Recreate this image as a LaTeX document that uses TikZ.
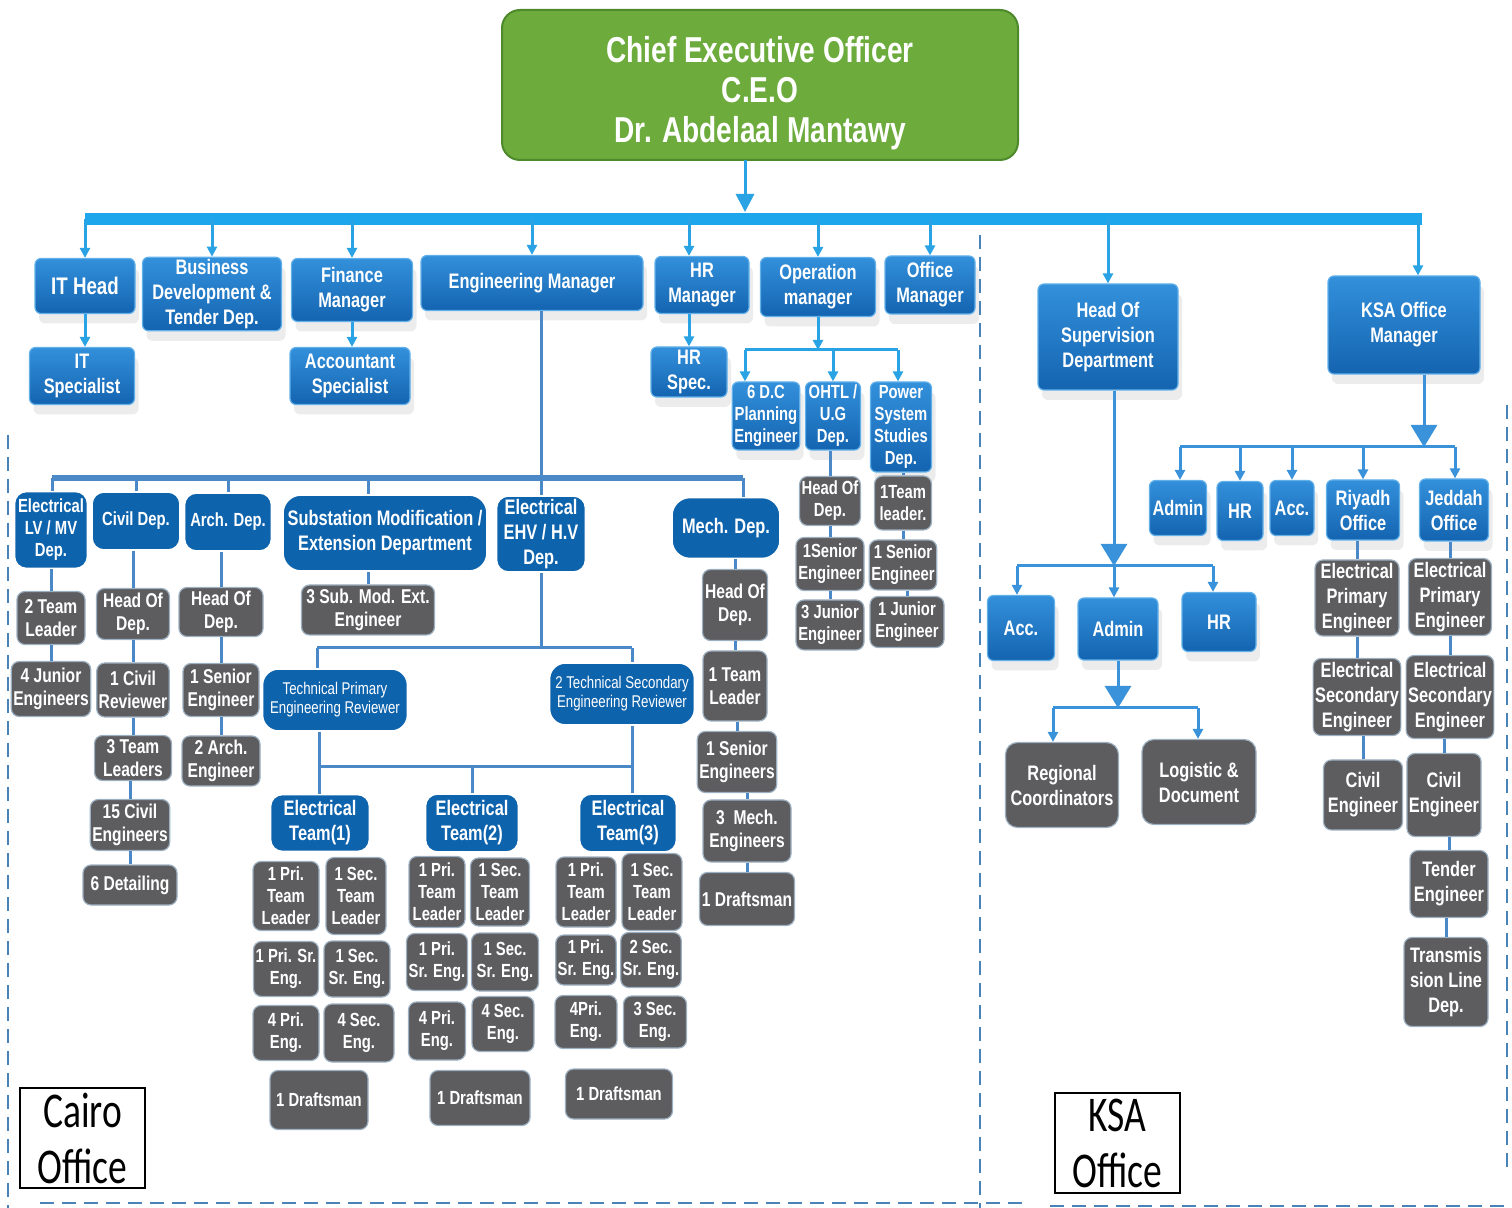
\documentclass[tikz,border=0pt]{standalone}
\usepackage{fontspec}
\setmainfont{Liberation Sans}[FakeStretch=0.78]
\newfontfamily\officeFont{Carlito}[FakeStretch=0.75]
\usetikzlibrary{arrows.meta,shadows}

\definecolor{ceoGreen}{HTML}{6CAB3C}
\definecolor{ceoEdge}{HTML}{4E8A2C}
\definecolor{glossTop}{HTML}{3390DB}
\definecolor{glossBot}{HTML}{1464B0}
\definecolor{glossRim}{HTML}{62B0EA}
\definecolor{deptBlue}{HTML}{0E63AD}
\definecolor{staffGrey}{HTML}{5D5D60}
\definecolor{staffRim}{HTML}{9DB0C2}
\definecolor{arrCyan}{HTML}{29A3E3}
\definecolor{busCyan}{HTML}{1EA6EC}
\definecolor{linkBlue}{HTML}{4A88C8}
\definecolor{ksaBlue}{HTML}{3A93DA}
\definecolor{borderBlue}{HTML}{4A83B8}

\newcommand{\ceoFont}{\bfseries\fontsize{18}{20}\selectfont}
\newcommand{\itFont}{\bfseries\fontsize{12}{14}\selectfont}
\newcommand{\boxFont}{\bfseries\fontsize{10.5}{12.5}\selectfont}
\newcommand{\boxSmallFont}{\bfseries\fontsize{9.5}{11}\selectfont}
\newcommand{\staffFont}{\bfseries\fontsize{10}{11.5}\selectfont}
\newcommand{\crewFont}{\bfseries\fontsize{9.5}{11}\selectfont}
\newcommand{\reviewFont}{\fontsize{8.5}{9.5}\selectfont}

\begin{document}
\begin{tikzpicture}[x=0.5pt, y=-0.5pt,
   ceo/.style={rectangle, rounded corners=9pt, draw=ceoEdge, line width=1pt, fill=ceoGreen, text=white, font=\ceoFont, align=center},
   glossy/.style={rectangle, rounded corners=3pt, draw=glossRim, line width=0.6pt, top color=glossTop, bottom color=glossBot, text=white, font=\boxFont, align=center, inner sep=1pt, drop shadow={shadow xshift=2pt, shadow yshift=-5pt, opacity=0.15}},
   dept/.style={rectangle, rounded corners=6pt, draw=white, line width=0.8pt, fill=deptBlue, text=white, font=\boxFont, align=center, inner sep=1pt},
   staff/.style={rectangle, rounded corners=4pt, draw=staffRim, line width=0.6pt, fill=staffGrey, text=white, font=\staffFont, align=center, inner sep=1pt},
   crew/.style={staff, font=\crewFont},
   office/.style={rectangle, draw=black, line width=1pt, font=\officeFont\fontsize{25}{28}\selectfont, align=center, inner sep=0pt},
   arr/.style={draw=arrCyan, line width=1.5pt, -{Triangle[width=5pt,length=5pt]}},
   ksaarr/.style={draw=ksaBlue, line width=1.5pt, -{Triangle[width=5pt,length=5pt]}},
   bigarr/.style={draw=ksaBlue, line width=1.5pt, -{Triangle[width=13pt,length=11pt]}},
   mainbus/.style={draw=busCyan, line width=6pt},
   opbus/.style={draw=arrCyan, line width=1.5pt},
   ksabus/.style={draw=ksaBlue, line width=1.5pt},
   engbus/.style={draw=linkBlue, line width=3pt},
   link/.style={draw=linkBlue, line width=1.5pt},
   border/.style={draw=borderBlue, line width=0.8pt, dash pattern=on 7pt off 4pt}
]
\useasboundingbox (0,0) rectangle (1512,1208);

% top
\node[ceo, minimum width=258pt, minimum height=75pt] (ndCeo) at (760,85) {\rule{0pt}{21pt}Chief Executive Officer\\C.E.O\\Dr. Abdelaal Mantawy};

\node[glossy, font=\itFont, minimum width=50pt, minimum height=27.5pt] (ndItHead) at (85,286) {IT Head};
\node[glossy, minimum width=69.5pt, minimum height=36.5pt] (ndBusDev) at (212,294) {Business\\Development \&\\Tender Dep.};
\node[glossy, minimum width=60.5pt, minimum height=31.5pt] (ndFinance) at (352,290) {Finance\\Manager};
\node[glossy, minimum width=111pt, minimum height=27.5pt] (ndEngMan) at (532,283) {Engineering Manager};
\node[glossy, minimum width=47pt, minimum height=28.5pt] (ndHrMan) at (702,285) {HR\\Manager};
\node[glossy, minimum width=57.5pt, minimum height=29.5pt] (ndOpMan) at (818,287) {Operation\\manager};
\node[glossy, minimum width=45pt, minimum height=29pt] (ndOffice) at (930,285) {Office\\Manager};
\node[glossy, minimum width=70pt, minimum height=53pt] (ndHeadSup) at (1108,337) {Head Of\\Supervision\\Department};
\node[glossy, minimum width=76pt, minimum height=49pt] (ndKsaMan) at (1404,325) {KSA Office\\Manager};

\node[glossy, below of=ndItHead, node distance=45pt, xshift=-1.5pt, minimum width=52.5pt, minimum height=28.5pt] (ndItSpec) {IT\\Specialist};
\node[glossy, below of=ndFinance, node distance=43pt, xshift=-1pt, minimum width=60pt, minimum height=28.5pt] (ndAccSpec) {Accountant\\Specialist};
\node[glossy, below of=ndHrMan, node distance=43.5pt, xshift=-6.5pt, minimum width=38pt, minimum height=25pt] (ndHrSpec) {HR\\Spec.};

% operation
\node[glossy, font=\boxSmallFont, minimum width=33.5pt, minimum height=34pt] (ndDc) at (766,416) {6 D.C\\Planning\\Engineer};
\node[glossy, font=\boxSmallFont, minimum width=27.5pt, minimum height=34pt] (ndOhtl) at (833,416) {OHTL /\\U.G\\Dep.};
\node[glossy, font=\boxSmallFont, minimum width=30.5pt, minimum height=45pt] (ndPss) at (901,427) {Power\\System\\Studies\\Dep.};
\node[staff, font=\boxSmallFont, below of=ndOhtl, node distance=42.5pt, xshift=-1.5pt, minimum width=30pt, minimum height=24.5pt] (ohHead) {Head Of\\Dep.};
\node[staff, font=\boxSmallFont, below of=ohHead, node distance=31.5pt, minimum width=34pt, minimum height=26.5pt] (ohSen) {1Senior\\Engineer};
\node[staff, font=\boxSmallFont, below of=ohSen, node distance=30.5pt, minimum width=34pt, minimum height=25pt] (ohJun) {3 Junior\\Engineer};
\node[staff, font=\boxSmallFont, below of=ndPss, node distance=38pt, xshift=1pt, minimum width=28.5pt, minimum height=27pt] (psTl) {1Team\\leader.};
\node[staff, font=\boxSmallFont, below of=psTl, node distance=31pt, minimum width=33pt, minimum height=25pt] (psSen) {1 Senior\\Engineer};
\node[staff, font=\boxSmallFont, below of=psSen, node distance=28.5pt, xshift=2pt, minimum width=37pt, minimum height=25.5pt] (psJun) {1 Junior\\Engineer};

% engineering
\node[dept, font=\boxSmallFont, minimum width=36.5pt, minimum height=38.5pt] (ndElv) at (51,530) {Electrical\\LV / MV\\Dep.};
\node[dept, font=\boxSmallFont, minimum width=44pt, minimum height=29pt] (ndCivil) at (136,521) {Civil Dep.};
\node[dept, font=\boxSmallFont, minimum width=43.5pt, minimum height=29pt] (ndArch) at (228,522) {Arch. Dep.};
\node[dept, rounded corners=9pt, minimum width=102pt, minimum height=38pt] (ndSubst) at (385,533) {Substation Modification /\\Extension Department};
\node[dept, minimum width=44.5pt, minimum height=38pt] (ndEhv) at (541,534) {Electrical\\EHV / H.V\\Dep.};
\node[dept, rounded corners=9pt, minimum width=54pt, minimum height=30.5pt] (ndMech) at (726,528) {Mech. Dep.};

\node[staff, below of=ndElv, node distance=44pt, minimum width=34pt, minimum height=26.5pt] (elvTl) {2 Team\\Leader};
\node[staff, below of=elvTl, node distance=35.5pt, minimum width=37pt, minimum height=27.5pt] (elvJun) {4 Junior\\Engineers};
\node[staff, below of=ndCivil, node distance=46.5pt, xshift=-1.5pt, minimum width=36.5pt, minimum height=25.5pt] (civHead) {Head Of\\Dep.};
\node[staff, below of=civHead, node distance=38pt, minimum width=33.5pt, minimum height=27pt] (civRev) {1 Civil\\Reviewer};
\node[staff, below of=civRev, node distance=34pt, minimum width=38.5pt, minimum height=22.5pt] (civTl) {3 Team\\Leaders};
\node[staff, below of=civTl, node distance=33.5pt, xshift=-1.5pt, minimum width=38.5pt, minimum height=25.5pt] (civEng) {15 Civil\\Engineers};
\node[staff, below of=civEng, node distance=30pt, minimum width=47pt, minimum height=20pt] (civDet) {6 Detailing};
\node[staff, below of=ndArch, node distance=45pt, xshift=-3.5pt, minimum width=42pt, minimum height=24.5pt] (archHead) {Head Of\\Dep.};
\node[staff, below of=archHead, node distance=39pt, minimum width=38pt, minimum height=26.5pt] (archSen) {1 Senior\\Engineer};
\node[staff, below of=archSen, node distance=35.5pt, minimum width=39pt, minimum height=25pt] (archEng) {2 Arch.\\Engineer};
\node[staff, below of=ndSubst, node distance=38.5pt, xshift=-8.5pt, minimum width=66.5pt, minimum height=25pt] (substEng) {3 Sub. Mod. Ext.\\Engineer};
\node[staff, below of=ndMech, node distance=38.5pt, xshift=4.5pt, minimum width=32.5pt, minimum height=35.5pt] (mechHead) {Head Of\\Dep.};
\node[staff, below of=mechHead, node distance=40.5pt, minimum width=32pt, minimum height=35pt] (mechTl) {1 Team\\Leader};
\node[staff, below of=mechTl, node distance=38pt, xshift=1pt, minimum width=36pt, minimum height=30.5pt] (mechSen) {1 Senior\\Engineers};
\node[staff, below of=mechSen, node distance=34.5pt, xshift=5pt, minimum width=44pt, minimum height=31pt] (mechEng) {3~~Mech.\\Engineers};
\node[staff, below of=mechEng, node distance=34pt, minimum width=47.5pt, minimum height=26.5pt] (mechDraft) {1 Draftsman};

\node[dept, font=\reviewFont, rounded corners=8pt, minimum width=72.5pt, minimum height=31pt] (ndTpr) at (335,700) {Technical Primary\\Engineering Reviewer};
\node[dept, font=\reviewFont, rounded corners=8pt, minimum width=72.5pt, minimum height=31pt] (ndTsr) at (622,694) {2 Technical Secondary\\Engineering Reviewer};

\node[dept, minimum width=49.5pt, minimum height=28.5pt] (ndTeam1) at (320,823) {Electrical\\Team(1)};
\node[dept, minimum width=46.5pt, minimum height=29pt] (ndTeam2) at (472,823) {Electrical\\Team(2)};
\node[dept, minimum width=48.5pt, minimum height=29pt] (ndTeam3) at (628,823) {Electrical\\Team(3)};

\node[crew, below of=ndTeam1, node distance=36.5pt, xshift=-17pt, minimum width=33pt, minimum height=34.5pt] (t1a) {1 Pri.\\Team\\Leader};
\node[crew, right of=t1a, node distance=35pt, minimum width=30pt, minimum height=38.5pt] (t1b) {1 Sec.\\Team\\Leader};
\node[crew, below of=t1a, node distance=36.5pt, minimum width=32.5pt, minimum height=27.5pt] (t1c) {1 Pri. Sr.\\Eng.};
\node[crew, right of=t1c, node distance=35.5pt, minimum width=33pt, minimum height=28pt] (t1d) {1 Sec.\\Sr. Eng.};
\node[crew, below of=t1c, node distance=32pt, minimum width=33pt, minimum height=27.5pt] (t1e) {4 Pri.\\Eng.};
\node[crew, right of=t1e, node distance=36.5pt, minimum width=35pt, minimum height=29pt] (t1f) {4 Sec.\\Eng.};
\node[crew, below of=t1e, node distance=33.5pt, xshift=16.5pt, minimum width=49pt, minimum height=29.5pt] (t1g) {1 Draftsman};

\node[crew, below of=ndTeam2, node distance=34.5pt, xshift=-17.5pt, minimum width=28pt, minimum height=35.5pt] (t2a) {1 Pri.\\Team\\Leader};
\node[crew, right of=t2a, node distance=31.5pt, minimum width=29.5pt, minimum height=34pt] (t2b) {1 Sec.\\Team\\Leader};
\node[crew, below of=t2a, node distance=35pt, minimum width=30.5pt, minimum height=28.5pt] (t2c) {1 Pri.\\Sr. Eng.};
\node[crew, right of=t2c, node distance=34pt, minimum width=33.5pt, minimum height=29pt] (t2d) {1 Sec.\\Sr. Eng.};
\node[crew, below of=t2c, node distance=34.5pt, minimum width=28.5pt, minimum height=29pt] (t2e) {4 Pri.\\Eng.};
\node[crew, right of=t2e, node distance=33pt, yshift=3.5pt, minimum width=31pt, minimum height=27.5pt] (t2f) {4 Sec.\\Eng.};
\node[crew, below of=t2e, node distance=33.5pt, xshift=21.5pt, minimum width=50pt, minimum height=27.5pt] (t2g) {1 Draftsman};

\node[crew, below of=ndTeam3, node distance=34.5pt, xshift=-21pt, minimum width=30pt, minimum height=35pt] (t3a) {1 Pri.\\Team\\Leader};
\node[crew, right of=t3a, node distance=33pt, minimum width=30pt, minimum height=38.5pt] (t3b) {1 Sec.\\Team\\Leader};
\node[crew, below of=t3a, node distance=34pt, minimum width=30pt, minimum height=25pt] (t3c) {1 Pri.\\Sr. Eng.};
\node[crew, right of=t3c, node distance=32.5pt, minimum width=29.5pt, minimum height=27.5pt] (t3d) {2 Sec.\\Sr. Eng.};
\node[crew, below of=t3c, node distance=31pt, minimum width=31pt, minimum height=26.5pt] (t3e) {4Pri.\\Eng.};
\node[crew, right of=t3e, node distance=34.5pt, minimum width=31.5pt, minimum height=26pt] (t3f) {3 Sec.\\Eng.};
\node[crew, below of=t3e, node distance=36pt, xshift=16.5pt, minimum width=53.5pt, minimum height=25pt] (t3g) {1 Draftsman};

% supervision
\node[glossy, minimum width=33.5pt, minimum height=32.5pt] (supAcc) at (1021,628) {Acc.};
\node[glossy, minimum width=40pt, minimum height=31pt] (supAdmin) at (1118,629) {Admin};
\node[glossy, minimum width=37pt, minimum height=29.5pt] (supHr) at (1219,622) {HR};
\node[staff, font=\boxFont, rounded corners=6pt, minimum width=56.5pt, minimum height=42.5pt] (supReg) at (1062,785) {Regional\\Coordinators};
\node[staff, font=\boxFont, rounded corners=6pt, minimum width=57pt, minimum height=42.5pt] (supLog) at (1199,782) {Logistic \&\\Document};

% ksa
\node[glossy, minimum width=28.5pt, minimum height=27.5pt] (ksaAdmin) at (1178,508) {Admin};
\node[glossy, minimum width=23pt, minimum height=29.5pt] (ksaHr) at (1240,511) {HR};
\node[glossy, minimum width=22pt, minimum height=27.5pt] (ksaAcc) at (1292,508) {Acc.};
\node[glossy, minimum width=36.5pt, minimum height=30pt] (ksaRiy) at (1363,510) {Riyadh\\Office};
\node[glossy, minimum width=34.5pt, minimum height=31pt] (ksaJed) at (1454,510) {Jeddah\\Office};

\node[staff, font=\boxFont, below of=ksaRiy, node distance=44pt, xshift=-3pt, minimum width=42pt, minimum height=38pt] (riyPri) {Electrical\\Primary\\Engineer};
\node[staff, font=\boxFont, below of=riyPri, node distance=49.5pt, minimum width=42.5pt, minimum height=38.5pt] (riySec) {Electrical\\Secondary\\Engineer};
\node[staff, font=\boxFont, below of=riySec, node distance=49pt, xshift=3pt, minimum width=39.5pt, minimum height=35pt] (riyCiv) {Civil\\Engineer};
\node[staff, font=\boxFont, below of=ksaJed, node distance=43.5pt, xshift=-2pt, minimum width=41.5pt, minimum height=38.5pt] (jedPri) {Electrical\\Primary\\Engineer};
\node[staff, font=\boxFont, below of=jedPri, node distance=50pt, minimum width=43pt, minimum height=41.5pt] (jedSec) {Electrical\\Secondary\\Engineer};
\node[staff, font=\boxFont, below of=jedSec, node distance=49pt, xshift=-3pt, minimum width=36pt, minimum height=41.5pt] (jedCiv) {Civil\\Engineer};
\node[staff, font=\boxFont, below of=jedCiv, node distance=44.5pt, xshift=2.5pt, minimum width=39pt, minimum height=33.5pt] (jedTen) {Tender\\Engineer};
\node[staff, font=\boxFont, below of=jedTen, node distance=49pt, xshift=-1.5pt, minimum width=42pt, minimum height=44.5pt] (jedTl) {Transmis\\sion Line\\Dep.};

\node[office, minimum width=62.5pt, minimum height=50pt] (ndCairo) at (82.5,1138) {Cairo\\Office};
\node[office, minimum width=62.5pt, minimum height=50pt] (ndKsaOff) at (1117.5,1143) {KSA\\Office};

% main bus
\coordinate (ceoOut) at (745,160);
\coordinate (ceoIn) at (745,212);
\coordinate (busW) at (85,219);
\coordinate (busE) at (1422,219);
\coordinate (ksaIn) at (1418,219);
\draw[arr, -{Triangle[width=9pt,length=9pt]}] (ceoOut) -- (ceoIn);
\draw[mainbus] (busW) -- (busE);
\draw[arr] (ndItHead.north |- busW) -- (ndItHead.north);
\draw[arr] (ndBusDev.north |- busW) -- (ndBusDev.north);
\draw[arr] (ndFinance.north |- busW) -- (ndFinance.north);
\draw[arr] (ndEngMan.north |- busW) -- (ndEngMan.north);
\draw[arr] (ndHrSpec.north |- busW) -- (ndHrSpec.north |- ndHrMan.north);
\draw[arr] (ndOpMan.north |- busW) -- (ndOpMan.north);
\draw[arr] (ndOffice.north |- busW) -- (ndOffice.north);
\draw[arr] (ndHeadSup.north |- busW) -- (ndHeadSup.north);
\draw[arr] (ksaIn) -- (ksaIn |- ndKsaMan.north);

\draw[arr] (ndItHead.south) -- (ndItHead.south |- ndItSpec.north);
\draw[arr] (ndFinance.south) -- (ndFinance.south |- ndAccSpec.north);
\draw[arr] (ndHrSpec.north |- ndHrMan.south) -- (ndHrSpec.north);

% operation bus
\coordinate (opBusW) at (745,350);
\coordinate (opBusE) at (898,350);
\draw[opbus] (opBusW) -- (opBusE);
\draw[arr] (ndOpMan.south) -- (ndOpMan.south |- opBusW);
\draw[arr] (opBusW) -- (opBusW |- ndDc.north);
\draw[arr] (ndOhtl.north |- opBusW) -- (ndOhtl.north);
\draw[arr] (opBusE) -- (opBusE |- ndPss.north);
\draw[link] (ohHead.north |- ndOhtl.south) -- (ohHead.north);
\draw[link] (ohSen.north |- ohHead.south) -- (ohSen.north);
\draw[link] (ohJun.north |- ohSen.south) -- (ohJun.north);
\draw[link] (psTl.north |- ndPss.south) -- (psTl.north);
\draw[link] (psSen.north |- psTl.south) -- (psSen.north);
\draw[link] (psJun.north |- psSen.south) -- (psJun.north);

% engineering bus
\coordinate (engBusW) at (52,478);
\coordinate (engBusE) at (743,478);
\draw[link] (ndEhv.north |- ndEngMan.south) -- (ndEhv.north |- engBusW);
\draw[engbus] (engBusW) -- (engBusE);
\draw[link] (engBusW) -- (engBusW |- ndElv.north);
\draw[link] (ndCivil.north |- engBusW) -- (ndCivil.north);
\draw[link] (ndArch.north |- engBusW) -- (ndArch.north);
\draw[link] (substEng.north |- engBusW) -- (substEng.north |- ndSubst.north);
\draw[link] (ndEhv.north |- engBusW) -- (ndEhv.north);
\draw[link] (engBusE) -- (engBusE |- ndMech.north);

\draw[link] (elvTl.north |- ndElv.south) -- (elvTl.north);
\draw[link] (elvJun.north |- elvTl.south) -- (elvJun.north);
\draw[link] (civHead.north |- ndCivil.south) -- (civHead.north);
\draw[link] (civRev.north |- civHead.south) -- (civRev.north);
\draw[link] (civTl.north |- civRev.south) -- (civTl.north);
\draw[link] (civEng.north |- civTl.south) -- (civEng.north);
\draw[link] (civDet.north |- civEng.south) -- (civDet.north);
\draw[link] (archHead.north |- ndArch.south) -- (archHead.north);
\draw[link] (archSen.north |- archHead.south) -- (archSen.north);
\draw[link] (archEng.north |- archSen.south) -- (archEng.north);
\draw[link] (substEng.north |- ndSubst.south) -- (substEng.north);
\draw[link] (mechHead.north |- ndMech.south) -- (mechHead.north);
\draw[link] (mechTl.north |- mechHead.south) -- (mechTl.north);
\draw[link] (mechSen.north |- mechTl.south) -- (mechSen.north);
\draw[link] (mechEng.north |- mechSen.south) -- (mechEng.north);
\draw[link] (mechDraft.north |- mechEng.south) -- (mechDraft.north);

% reviewers and teams
\coordinate (revBusW) at (317,648);
\coordinate (revBusE) at (632,648);
\draw[link] (ndEhv.south) -- (ndEhv.south |- revBusW);
\draw[link] (revBusW) -- (revBusE);
\draw[link] (revBusW) -- (revBusW |- ndTpr.north);
\draw[link] (revBusE) -- (revBusE |- ndTsr.north);
\coordinate (teamBusW) at (319,767);
\coordinate (teamBusE) at (632,767);
\draw[link] (teamBusW |- ndTpr.south) -- (teamBusW);
\draw[link] (teamBusE |- ndTsr.south) -- (teamBusE);
\draw[link] (teamBusW) -- (teamBusE);
\draw[link] (teamBusW) -- (teamBusW |- ndTeam1.north);
\draw[link] (ndTeam2.north |- teamBusW) -- (ndTeam2.north);
\draw[link] (teamBusE) -- (teamBusE |- ndTeam3.north);

% supervision
\coordinate (supBusW) at (1017,566);
\coordinate (supMid) at (1114,566);
\coordinate (supBusE) at (1213,566);
\draw[ksabus] (supBusW) -- (supBusE);
\draw[bigarr] (supMid |- ndHeadSup.south) -- (supMid);
\draw[ksaarr] (supBusW) -- (supBusW |- supAcc.north);
\draw[ksaarr] (supMid) -- (supMid |- supAdmin.north);
\draw[ksaarr] (supBusE) -- (supBusE |- supHr.north);
\coordinate (admBusW) at (1053,708);
\coordinate (admMid) at (1118,708);
\coordinate (admBusE) at (1198,708);
\draw[ksabus] (admBusW) -- (admBusE);
\draw[bigarr] (admMid |- supAdmin.south) -- (admMid);
\draw[ksaarr] (admBusW) -- (admBusW |- supReg.north);
\draw[ksaarr] (admBusE) -- (admBusE |- supLog.north);

% ksa office
\coordinate (ksaBusW) at (1180,447);
\coordinate (ksaMid) at (1424,447);
\coordinate (ksaBusE) at (1455,447);
\draw[ksabus] (ksaBusW) -- (ksaBusE);
\draw[bigarr] (ksaMid |- ndKsaMan.south) -- (ksaMid);
\draw[ksaarr] (ksaBusW) -- (ksaBusW |- ksaAdmin.north);
\draw[ksaarr] (ksaHr.north |- ksaBusW) -- (ksaHr.north);
\draw[ksaarr] (ksaAcc.north |- ksaBusW) -- (ksaAcc.north);
\draw[ksaarr] (ksaRiy.north |- ksaBusW) -- (ksaRiy.north);
\draw[ksaarr] (ksaBusE) -- (ksaBusE |- ksaJed.north);
\draw[link] (riyPri.north |- ksaRiy.south) -- (riyPri.north);
\draw[link] (riySec.north |- riyPri.south) -- (riySec.north);
\draw[link] (riyCiv.north |- riySec.south) -- (riyCiv.north);
\draw[link] (jedPri.north |- ksaJed.south) -- (jedPri.north);
\draw[link] (jedSec.north |- jedPri.south) -- (jedSec.north);
\draw[link] (jedCiv.north |- jedSec.south) -- (jedCiv.north);
\draw[link] (jedTen.north |- jedCiv.south) -- (jedTen.north);
\draw[link] (jedTl.north |- jedTen.south) -- (jedTl.north);

% office borders
\draw[border] (8,435) -- (8,1208);
\draw[border] (980,235) -- (980,1208);
\draw[border] (40,1203) -- (1025,1203);
\draw[border] (1050,1206) -- (1505,1206);
\draw[border] (1507,405) -- (1507,1170);

\end{tikzpicture}
\end{document}
